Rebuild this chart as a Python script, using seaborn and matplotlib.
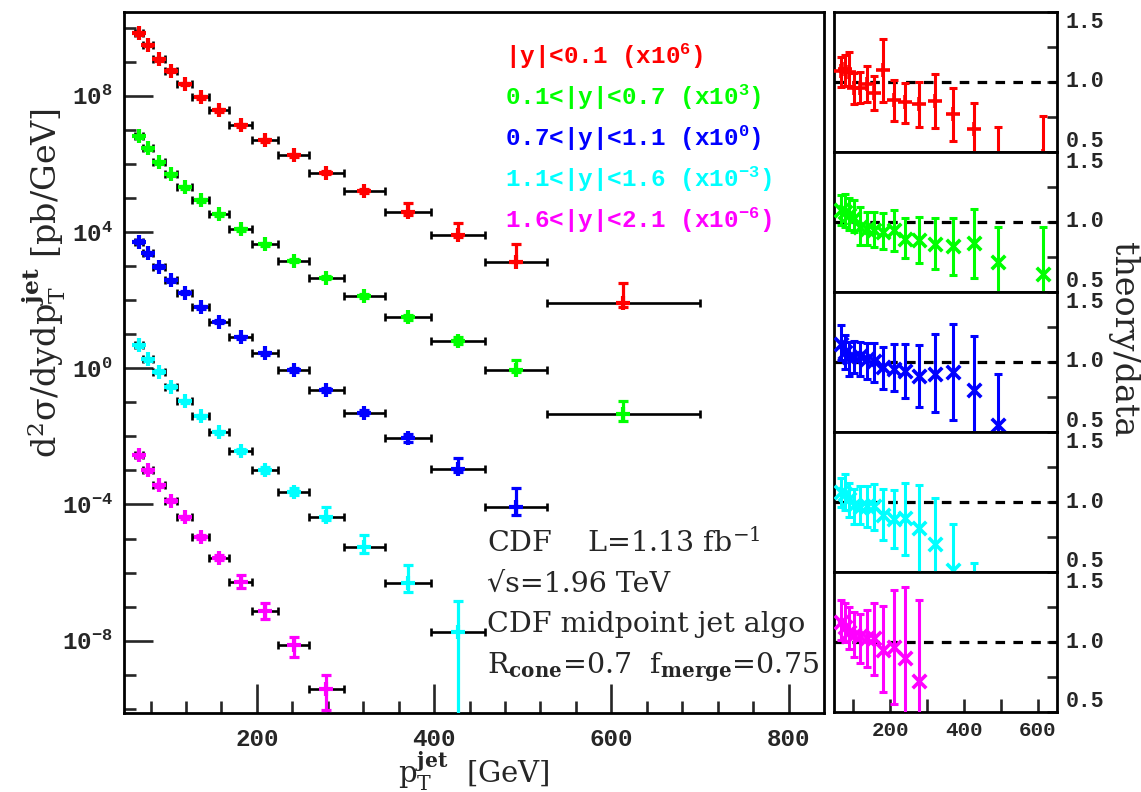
import matplotlib
matplotlib.use("Agg")
import matplotlib.pyplot as plt
import matplotlib.ticker as mticker
import numpy as np
import pandas as pd
import seaborn as sns

# pT bin edges [GeV], shared by all rapidity bins
bin_edges = [62, 72, 83, 96, 110, 127, 146, 169, 195, 224, 259, 298, 344, 396, 457, 527, 700]

rap_labels = ["|y|<0.1", "0.1<|y|<0.7", "0.7<|y|<1.1", "1.1<|y|<1.6", "1.6<|y|<2.1"]
rap_scale_exp = [6, 3, 0, -3, -6]
rap_colors = ["#ff0000", "#00ff00", "#0000ff", "#00ffff", "#ff00ff"]

# cross sections [pb/GeV] (unscaled) with fractional upper / lower errors
xsec_y1 = [6.79e3, 3.08e3, 1.17e3, 542, 221, 89.7, 38.0, 13.8, 5.00, 1.78, 0.548, 0.159,
           0.0385, 8.13e-3, 1.34e-3, 8.36e-5]
xsec_y1_up = [0.1, 0.1, 0.1, 0.1, 0.1, 0.1, 0.1, 0.1, 0.1, 0.1, 0.12, 0.15, 0.84, 1.25, 2.31, 2.71]
xsec_y1_dn = [0.1, 0.1, 0.1, 0.1, 0.1, 0.1, 0.1, 0.1, 0.1, 0.1, 0.1, 0.1, 0.18, 0.13, 0.05, 0.24]

xsec_y2 = [6.56e3, 2.86e3, 1.11e3, 502, 205, 86.7, 33.7, 12.0, 4.34, 1.43, 0.453, 0.132,
           0.0312, 6.41e-3, 8.85e-4, 4.52e-5]
xsec_y2_up = [0.1, 0.1, 0.1, 0.1, 0.1, 0.1, 0.1, 0.1, 0.1, 0.1, 0.12, 0.15, 0.2, 0.3, 0.97, 1.46]
xsec_y2_dn = [0.1, 0.1, 0.1, 0.1, 0.1, 0.1, 0.1, 0.1, 0.1, 0.1, 0.1, 0.1, 0.15, 0.2, 0.13, 0.36]

xsec_y3 = [5.16e3, 2.36e3, 953, 388, 164, 61.2, 23.2, 8.07, 2.74, 0.885, 0.229, 0.0493,
           8.73e-3, 1.07e-3, 8.57e-5]
xsec_y3_up = [0.1, 0.1, 0.1, 0.1, 0.1, 0.1, 0.1, 0.1, 0.1, 0.12, 0.15, 0.2, 0.3, 1.10, 2.54]
xsec_y3_dn = [0.1, 0.1, 0.1, 0.1, 0.1, 0.1, 0.1, 0.1, 0.1, 0.1, 0.12, 0.15, 0.2, 0.18, 0.43]

xsec_y4 = [4.80e3, 1.82e3, 789, 286, 109, 39.4, 13.1, 3.70, 1.02, 0.236, 0.0436, 5.74e-3,
           4.83e-4, 1.76e-5]
xsec_y4_up = [0.1, 0.1, 0.1, 0.1, 0.1, 0.1, 0.12, 0.15, 0.2, 0.3, 0.97, 1.21, 2.45, 7.47]
xsec_y4_dn = [0.1, 0.1, 0.1, 0.1, 0.1, 0.1, 0.1, 0.12, 0.15, 0.2, 0.18, 0.35, 0.43, 0.9999]

xsec_y5 = [2.82e3, 1.02e3, 372, 129, 41.9, 11.3, 2.73, 0.516, 0.0757, 7.45e-3, 3.73e-4]
xsec_y5_up = [0.1, 0.1, 0.1, 0.1, 0.12, 0.15, 0.2, 0.6, 0.68, 0.75, 1.63]
xsec_y5_dn = [0.1, 0.1, 0.1, 0.1, 0.1, 0.12, 0.15, 0.33, 0.43, 0.55, 0.75]

# theory / data ratios with absolute upper / lower errors
ratio_y1 = [1.076, 1.088, 1.071, 0.957, 0.952, 0.981, 0.921, 1.083, 0.869, 0.852, 0.838, 0.864,
            0.767, 0.660, 0.45, 0.47]
ratio_y1_up = [0.103, 0.102, 0.143, 0.103, 0.119, 0.133, 0.122, 0.222, 0.143, 0.136, 0.162, 0.188,
               0.190, 0.185, 0.224, 0.287]
ratio_y1_dn = [0.112, 0.12, 0.10, 0.119, 0.102, 0.124, 0.123, 0.226, 0.150, 0.150, 0.159, 0.193,
               0.191, 0.2, 0.2, 0.2]

ratio_y2 = [1.088, 1.071, 1.048, 1.024, 0.964, 0.952, 0.940, 0.929, 0.940, 0.881, 0.869, 0.840,
            0.826, 0.850, 0.714, 0.631]
ratio_y2_up = [0.102, 0.129, 0.119, 0.131, 0.143, 0.115, 0.127, 0.131, 0.143, 0.148, 0.167, 0.189,
               0.198, 0.245, 0.250, 0.333]
ratio_y2_dn = [0.112, 0.107, 0.108, 0.095, 0.131, 0.119, 0.119, 0.124, 0.150, 0.138, 0.162, 0.173,
               0.202, 0.248, 0.25, 0.25]

ratio_y3 = [1.131, 1.071, 1.036, 1.036, 1.040, 1.024, 1.007, 0.964, 0.952, 0.933, 0.898, 0.917,
            0.929, 0.798, 0.548]
ratio_y3_up = [0.131, 0.119, 0.107, 0.114, 0.103, 0.114, 0.129, 0.143, 0.174, 0.193, 0.221, 0.281,
               0.345, 0.385, 0.364]
ratio_y3_dn = [0.119, 0.119, 0.136, 0.115, 0.142, 0.143, 0.150, 0.154, 0.162, 0.190, 0.219, 0.274,
               0.346, 0.35, 0.3]

ratio_y4 = [1.071, 1.060, 1.024, 0.976, 0.964, 0.971, 0.971, 0.910, 0.881, 0.886, 0.814, 0.702,
            0.512, 0.40]
ratio_y4_up = [0.100, 0.140, 0.112, 0.119, 0.150, 0.143, 0.160, 0.185, 0.202, 0.252, 0.310, 0.329,
               0.333, 0.167]
ratio_y4_dn = [0.107, 0.120, 0.131, 0.131, 0.119, 0.150, 0.173, 0.184, 0.210, 0.262, 0.35, 0.35,
               0.3, 0.3]

ratio_y5 = [1.143, 1.105, 1.076, 1.052, 1.045, 1.029, 1.029, 0.945, 0.969, 0.886, 0.724]
ratio_y5_up = [0.155, 0.178, 0.172, 0.160, 0.155, 0.204, 0.254, 0.310, 0.405, 0.507, 0.578]
ratio_y5_dn = [0.126, 0.105, 0.124, 0.154, 0.195, 0.203, 0.262, 0.297, 0.409, 0.45, 0.45]

xsec_all = [xsec_y1, xsec_y2, xsec_y3, xsec_y4, xsec_y5]
xsec_up_all = [xsec_y1_up, xsec_y2_up, xsec_y3_up, xsec_y4_up, xsec_y5_up]
xsec_dn_all = [xsec_y1_dn, xsec_y2_dn, xsec_y3_dn, xsec_y4_dn, xsec_y5_dn]
ratio_all = [ratio_y1, ratio_y2, ratio_y3, ratio_y4, ratio_y5]
ratio_up_all = [ratio_y1_up, ratio_y2_up, ratio_y3_up, ratio_y4_up, ratio_y5_up]
ratio_dn_all = [ratio_y1_dn, ratio_y2_dn, ratio_y3_dn, ratio_y4_dn, ratio_y5_dn]

W, H = 1141, 792
MONO = dict(fontfamily="Liberation Mono", fontweight="bold")


def build_frame():
    """Collect all rapidity bins into one long table."""
    rows = []
    for i in range(len(rap_labels)):
        for j, val in enumerate(xsec_all[i]):
            rows.append({
                "rap": i,
                "lo": bin_edges[j],
                "hi": bin_edges[j + 1],
                "pt": 0.5 * (bin_edges[j] + bin_edges[j + 1]),
                "xsec": val * 10.0 ** rap_scale_exp[i],
                "up": xsec_up_all[i][j],
                "dn": xsec_dn_all[i][j],
                "ratio": ratio_all[i][j],
                "r_up": ratio_up_all[i][j],
                "r_dn": ratio_dn_all[i][j],
            })
    return pd.DataFrame(rows)


def fig_box(left, top, right, bottom):
    return [left / W, 1 - bottom / H, (right - left) / W, (bottom - top) / H]


def draw_main(fig, df):
    ax = fig.add_axes(fig_box(124, 11.5, 824, 713))
    ax.set_yscale("log")
    for i, color in enumerate(rap_colors):
        d = df[df.rap == i]
        y = d.xsec.values
        ax.errorbar(d.pt, y, xerr=[d.pt - d.lo, d.hi - d.pt], fmt="none", ecolor="black",
                    elinewidth=1.9, capsize=3.2, capthick=1.9, zorder=2)
        ax.errorbar(d.pt, y, yerr=[y * d.dn.values, y * d.up.values], fmt="none", ecolor=color,
                    elinewidth=2.3, capsize=3.5, capthick=2.3, zorder=3)
        sns.scatterplot(x=d.pt.values, y=y, marker="+", s=105, color=color, linewidth=3.0,
                        ax=ax, zorder=4, legend=False)

    ax.set_xlim(50, 840)
    ax.set_ylim(10 ** -10.12, 10 ** 10.47)
    ax.set_xticks([200, 400, 600, 800], labels=["200", "400", "600", "800"], fontsize=17.5, **MONO)
    ax.set_xticks(np.arange(80, 840, 40), minor=True)
    majors = [-8, -4, 0, 4, 8]
    ax.set_yticks([10.0 ** k for k in majors], labels=["10$^{%d}$" % k for k in majors],
                  fontsize=17.5, **MONO)
    ax.set_yticks([10.0 ** k for k in range(-10, 11) if k not in majors], minor=True)
    ax.yaxis.set_minor_formatter(mticker.NullFormatter())
    ax.tick_params(which="major", direction="in", length=21, width=1.9,
                   bottom=True, left=True, top=False, right=False)
    ax.tick_params(which="minor", direction="in", length=8.5, width=1.9,
                   bottom=True, left=True, top=False, right=False)
    ax.tick_params(axis="x", which="major", pad=11)
    ax.tick_params(axis="y", which="major", pad=8)
    for s in ax.spines.values():
        s.set_linewidth(2.0)

    # legend of rapidity bins
    for i, (lab, color) in enumerate(zip(rap_labels, rap_colors)):
        fig.text(505 / W, 1 - (64 + 41 * i) / H, "%s (x10$^{%d}$)" % (lab, rap_scale_exp[i]),
                 color=color, fontsize=17.5, va="baseline", ha="left", **MONO)

    notes = ["CDF    L=1.13 fb$^{-1}$", "\u221as=1.96 TeV", "CDF midpoint jet algo",
             r"R$_{\mathbf{cone}}$=0.7  f$_{\mathbf{merge}}$=0.75"]
    for k, txt in enumerate(notes):
        fig.text(487 / W, 1 - [552, 592, 632, 673][k] / H, txt, fontsize=20.5, va="baseline",
                 ha="left", fontfamily="DejaVu Serif")

    fig.text(474 / W, 1 - 783 / H, r"p$_T^{\mathbf{jet}}$  [GeV]", fontsize=21, ha="center",
             va="baseline", fontfamily="DejaVu Serif")
    fig.text(44 / W, 1 - 283 / H, r"d$^2\sigma$/dydp$_T^{\mathbf{jet}}$ [pb/GeV]", fontsize=24,
             ha="center", va="center", rotation=90, fontfamily="DejaVu Serif")


def draw_ratios(fig, df):
    edges = [11.7, 151.8, 291.9, 432.0, 572.1, 712.3]
    for i, color in enumerate(rap_colors):
        ax = fig.add_axes(fig_box(834, edges[i], 1057, edges[i + 1]))
        d = df[df.rap == i]
        ax.axhline(1.0, color="black", lw=2.3, dashes=(3.0, 2.6), zorder=1)
        ax.errorbar(d.pt, d.ratio, yerr=[d.r_dn, d.r_up], fmt="none", ecolor=color,
                    elinewidth=2.2, capsize=3.2, capthick=2.2, zorder=3)
        sns.scatterplot(x=d.pt.values, y=d.ratio.values, marker="+" if i == 0 else "x",
                        s=110 if i == 0 else 95, color=color, linewidth=2.6, ax=ax, zorder=4,
                        legend=False)
        ax.set_xlim(48, 652)
        ax.set_ylim(0.5, 1.5)
        ax.yaxis.tick_right()
        ax.set_yticks([0.5, 1.0, 1.5], labels=["0.5", "1.0", "1.5"], fontsize=15.5, **MONO)
        ax.set_yticks([0.75, 1.25], minor=True)
        for lab, va in zip(ax.get_yticklabels(), ["bottom", "center", "top"]):
            lab.set_va(va)
        ax.tick_params(axis="y", which="both", direction="in", length=7, width=1.9,
                       left=False, right=True, labelleft=False, labelright=True, pad=6)
        if i == len(rap_colors) - 1:
            ax.set_xticks([100, 200, 300, 400, 500, 600],
                          labels=["", "200", "", "400", "", "600"], fontsize=15, **MONO)
            ax.tick_params(axis="x", direction="in", length=9.5, width=1.9, pad=6,
                           bottom=True, top=False)
        else:
            ax.set_xticks([])
        for s in ax.spines.values():
            s.set_linewidth(2.0)
    fig.text(1123 / W, 1 - 340 / H, "theory/data", fontsize=24, rotation=270, ha="center",
             va="center", fontfamily="DejaVu Serif")


def main():
    sns.set_theme(style="white")
    plt.rcParams["font.family"] = ["DejaVu Serif", "DejaVu Sans"]
    plt.rcParams["mathtext.fontset"] = "dejavuserif"
    plt.rcParams["mathtext.default"] = "regular"
    plt.rcParams["axes.edgecolor"] = "black"

    df = build_frame()
    fig = plt.figure(figsize=(W / 100, H / 100), dpi=100)
    draw_main(fig, df)
    draw_ratios(fig, df)
    fig.savefig("out.png", dpi=100, facecolor="white")
    plt.close(fig)


if __name__ == "__main__":
    main()
